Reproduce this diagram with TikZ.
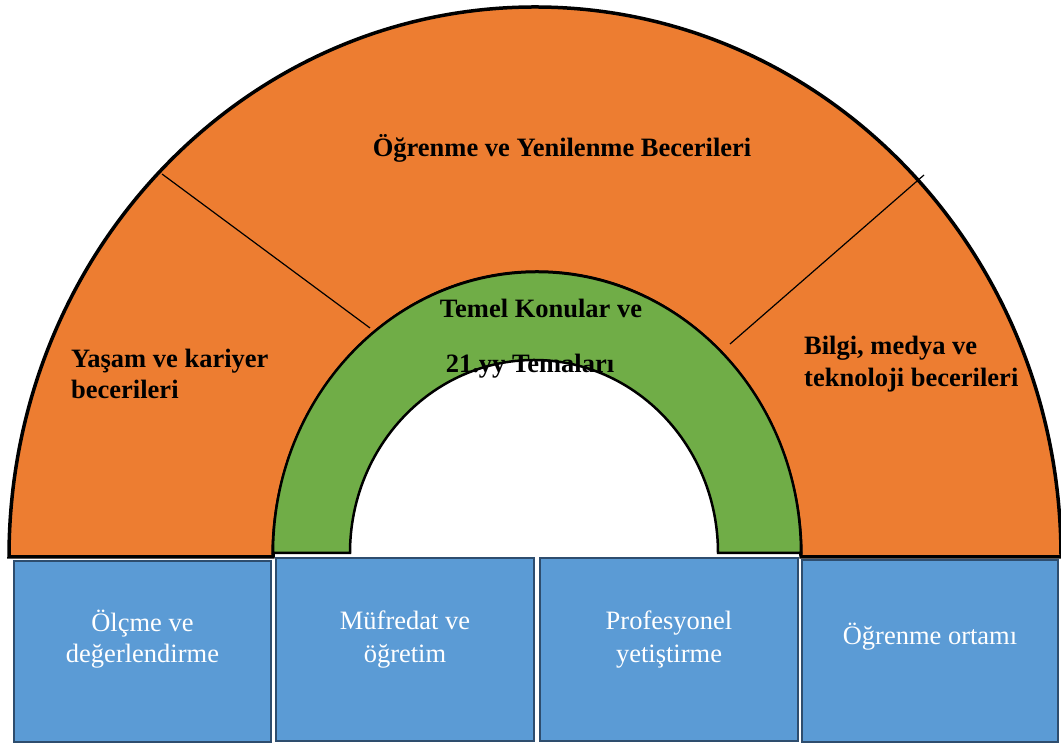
\documentclass[tikz,border=0pt]{standalone}
\usepackage{fontspec}
\setmainfont{Liberation Serif}
\definecolor{arcorange}{HTML}{ED7D31}
\definecolor{arcgreen}{HTML}{70AD47}
\definecolor{boxblue}{HTML}{5B9BD5}
\definecolor{boxedge}{HTML}{2E4D6E}
\tikzset{
  orangeshape/.style={fill=arcorange, draw=black, line width=3.5pt, line join=miter},
  greenshape/.style={fill=arcgreen, draw=black, line width=2.5pt},
  divider/.style={draw=black, line width=1.2pt},
  arclabel/.style={font=\bfseries\fontsize{26.5}{32}\selectfont, inner sep=0pt, text=black},
  bluebox/.style={fill=boxblue, draw=boxedge, line width=2.2pt, inner sep=0pt},
  boxlabel/.style={font=\fontsize{26.5}{32}\selectfont, inner sep=0pt, text=white, anchor=base}
}
\begin{document}
\begin{tikzpicture}[x=1pt,y=1pt]
\useasboundingbox (0,0) rectangle (1061,743);
% orange outer band
\draw[orangeshape] (9,186) arc[start angle=180,end angle=0,x radius=526,y radius=550]
  -- (801,186) arc[start angle=0,end angle=180,x radius=264,y radius=285] -- cycle;
% dividers
\coordinate (dl1) at (162,569);
\coordinate (dl2) at (370,415);
\coordinate (dr1) at (924,568);
\coordinate (dr2) at (730,399);
\draw[divider] (dl1) -- (dl2);
\draw[divider] (dr1) -- (dr2);
% green band
\draw[greenshape] (273,190) arc[start angle=180,end angle=0,x radius=264,y radius=281]
  -- (718,190) arc[start angle=0,end angle=180,x radius=184,y radius=193] -- cycle;
% arc labels
\node[arclabel, anchor=base] (t1) at (562,586) {Öğrenme ve Yenilenme Becerileri};
\node[arclabel, anchor=base west] (t2a) at (71,375) {Yaşam ve kariyer};
\node[arclabel, anchor=base west] (t2b) at (71,344) {becerileri};
\node[arclabel, anchor=base west] (t3a) at (804,388) {Bilgi, medya ve};
\node[arclabel, anchor=base west] (t3b) at (804,356) {teknoloji becerileri};
\node[arclabel, anchor=base] (t4a) at (541,425) {Temel Konular ve};
\node[arclabel, anchor=base] (t4b) at (530,370) {21.yy Temaları};
% blue boxes
\node[bluebox, minimum width=257pt, minimum height=181pt] (b1) at (142.5,91.5) {};
\node[bluebox, minimum width=258pt, minimum height=183pt] (b2) at (405,93.5) {};
\node[bluebox, minimum width=258pt, minimum height=183pt] (b3) at (669,93.5) {};
\node[bluebox, minimum width=256pt, minimum height=182pt] (b4) at (930,92) {};
\node[boxlabel] (l1a) at (142.5,111) {Ölçme ve};
\node[boxlabel] (l1b) at (142.5,80) {değerlendirme};
\node[boxlabel] (l2a) at (405,113) {Müfredat ve};
\node[boxlabel] (l2b) at (405,80) {öğretim};
\node[boxlabel] (l3a) at (669,113) {Profesyonel};
\node[boxlabel] (l3b) at (669,80) {yetiştirme};
\node[boxlabel] (l4) at (930,98) {Öğrenme ortamı};
\end{tikzpicture}
\end{document}
